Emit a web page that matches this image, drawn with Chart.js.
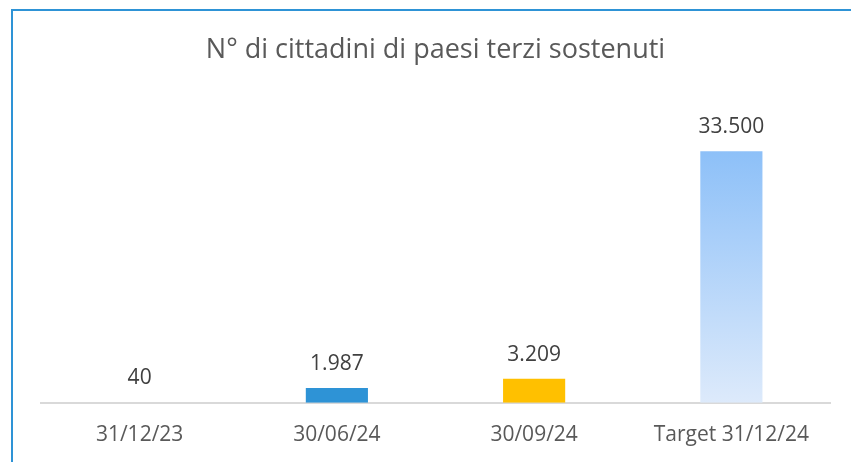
<!DOCTYPE html>
<html>
<head>
<meta charset="utf-8">
<script src="https://cdn.jsdelivr.net/npm/chart.js@4"></script>
<style>
  body { margin: 0; background: #fff; overflow: hidden; }
  #frame {
    position: absolute; left: 11px; top: 9px; width: 900px; height: 500px;
    border-top: 2px solid #2E93D6; border-left: 2px solid #2E93D6;
  }
  #wrap { position: absolute; left: 0; top: 0; width: 851px; height: 462px; }
</style>
</head>
<body>
<div id="frame"></div>
<div id="wrap"><canvas id="chart"></canvas></div>
<script>
// values
const categories = ["31/12/23", "30/06/24", "30/09/24", "Target 31/12/24"];
const values = [40, 1987, 3209, 33500];
const barColors = ["#D9D9D9", "#2E93D6", "#FFC000", null];
const chartTitle = "N° di cittadini di paesi terzi sostenuti";

// 1234 -> "1.234"
function formatNumber(n) {
  return String(n).replace(/\B(?=(\d{3})+(?!\d))/g, ".");
}

// light blue gradient for the target bar
function barColor(context) {
  const c = barColors[context.dataIndex];
  if (c) return c;
  const chart = context.chart;
  if (!chart.chartArea) return "#B4D4F9";
  const top = chart.scales.y.getPixelForValue(values[context.dataIndex]);
  const g = chart.ctx.createLinearGradient(0, top, 0, chart.chartArea.bottom);
  g.addColorStop(0, "#8DC0F8");
  g.addColorStop(1, "#DDEAFB");
  return g;
}

// draws the value above every bar
const valueLabels = {
  id: "valueLabels",
  afterDatasetsDraw(chart) {
    const ctx = chart.ctx;
    const meta = chart.getDatasetMeta(0);
    ctx.save();
    ctx.font = "21px 'Open Sans'";
    ctx.fillStyle = "#404040";
    ctx.textAlign = "center";
    ctx.textBaseline = "alphabetic";
    meta.data.forEach((bar, i) => {
      ctx.fillText(formatNumber(values[i]), bar.x, bar.y - 18);
    });
    ctx.restore();
  }
};

const ctx = document.getElementById("chart").getContext("2d");
new Chart(ctx, {
  type: "bar",
  data: {
    labels: categories,
    datasets: [
      {
        data: values,
        backgroundColor: barColor,
        borderWidth: 0,
        barPercentage: 0.315,
        categoryPercentage: 1
      }
    ]
  },
  options: {
    responsive: true,
    maintainAspectRatio: false,
    animation: false,
    layout: { padding: { left: 41, right: 21, top: 0, bottom: 2 } },
    plugins: {
      legend: { display: false },
      tooltip: { enabled: false },
      title: {
        display: true,
        text: chartTitle,
        color: "#595959",
        font: { family: "'Open Sans'", size: 27, weight: "normal" },
        padding: { top: 34, bottom: 36 }
      }
    },
    scales: {
      x: {
        grid: { display: false },
        border: { color: "#D9D9D9", width: 2 },
        ticks: {
          color: "#595959",
          font: { family: "'Open Sans'", size: 21 },
          padding: 12
        }
      },
      y: {
        display: false,
        min: 0,
        max: 40000
      }
    }
  },
  plugins: [valueLabels]
});
</script>
</body>
</html>
